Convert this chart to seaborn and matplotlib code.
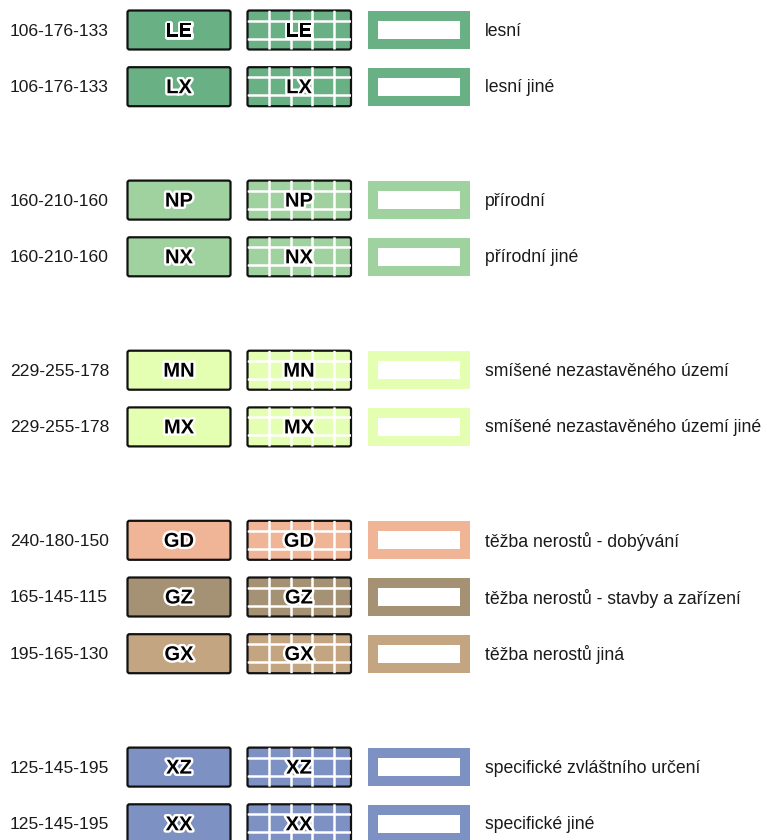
import matplotlib
matplotlib.use("Agg")
import matplotlib.pyplot as plt
import matplotlib.patheffects as pe
from matplotlib.patches import FancyBboxPatch, Rectangle
import seaborn as sns

# Legenda ploch - barvy RGB, kody a popisy
groups = [
    ["LE", "LX"],
    ["NP", "NX"],
    ["MN", "MX"],
    ["GD", "GZ", "GX"],
    ["XZ", "XX"],
]
rgb = {
    "LE": (106, 176, 133), "LX": (106, 176, 133),
    "NP": (160, 210, 160), "NX": (160, 210, 160),
    "MN": (229, 255, 178), "MX": (229, 255, 178),
    "GD": (240, 180, 150), "GZ": (165, 145, 115), "GX": (195, 165, 130),
    "XZ": (125, 145, 195), "XX": (125, 145, 195),
}
popis = {
    "LE": "lesní", "LX": "lesní jiné",
    "NP": "přírodní", "NX": "přírodní jiné",
    "MN": "smíšené nezastavěného území",
    "MX": "smíšené nezastavěného území jiné",
    "GD": "těžba nerostů - dobývání",
    "GZ": "těžba nerostů - stavby a zařízení",
    "GX": "těžba nerostů jiná",
    "XZ": "specifické zvláštního určení",
    "XX": "specifické jiné",
}

sns.set_theme(style="white")
plt.rcParams["font.family"] = ["Liberation Sans", "DejaVu Sans"]

fig = plt.figure(figsize=(7.67, 8.4), dpi=100)
ax = fig.add_axes([0, 0, 1, 1])
ax.set_xlim(0, 767)
ax.set_ylim(840, 0)
ax.axis("off")

# pozice radku (mezera mezi skupinami = jeden radek)
krok = 56.7
radky = []
slot = 0
for g in groups:
    for kod in g:
        radky.append((kod, 30 + slot * krok))
        slot += 1
    slot += 1

obrys = [pe.withStroke(linewidth=3.5, foreground="white")]

for kod, yc in radky:
    barva = tuple(c / 255 for c in rgb[kod])
    rgb_txt = "-".join(str(c) for c in rgb[kod])

    ax.text(10, yc + 1, rgb_txt, fontsize=12.6, va="center", ha="left", color="#1a1a1a")

    # plocha
    b1 = FancyBboxPatch((127.5, yc - 19.5), 103, 39,
                        boxstyle="round,pad=0,rounding_size=2",
                        facecolor=barva, edgecolor="#111111", linewidth=1.6)
    ax.add_patch(b1)
    ax.text(179, yc + 1, kod, fontsize=14.5, fontweight="bold", ha="center",
            va="center", color="black", path_effects=obrys)

    # plocha s mrizkou
    b2 = FancyBboxPatch((247.5, yc - 19.5), 103.5, 39,
                        boxstyle="round,pad=0,rounding_size=2",
                        facecolor=barva, edgecolor="none", linewidth=0)
    ax.add_patch(b2)
    for xv in [269, 290.5, 312, 333.5]:
        ln = ax.plot([xv, xv], [yc - 19.5, yc + 19.5], color="white", lw=1.8)[0]
        ln.set_clip_path(b2)
    for dy in [-9.5, 8.5]:
        ln = ax.plot([247.5, 351], [yc + dy, yc + dy], color="white", lw=1.8)[0]
        ln.set_clip_path(b2)
    b2e = FancyBboxPatch((247.5, yc - 19.5), 103.5, 39,
                         boxstyle="round,pad=0,rounding_size=2",
                         facecolor="none", edgecolor="#111111", linewidth=1.6)
    ax.add_patch(b2e)
    ax.text(299, yc + 1, kod, fontsize=14.5, fontweight="bold", ha="center",
            va="center", color="black", path_effects=obrys)

    # obrysova plocha
    ax.add_patch(Rectangle((368, yc - 19), 102, 38, facecolor=barva, edgecolor="none"))
    ax.add_patch(Rectangle((378, yc - 9), 82, 18, facecolor="white", edgecolor="none"))

    ax.text(485, yc + 1, popis[kod], fontsize=12.7, va="center", ha="left", color="#1a1a1a")

fig.savefig("out.png", dpi=100, facecolor="white")
